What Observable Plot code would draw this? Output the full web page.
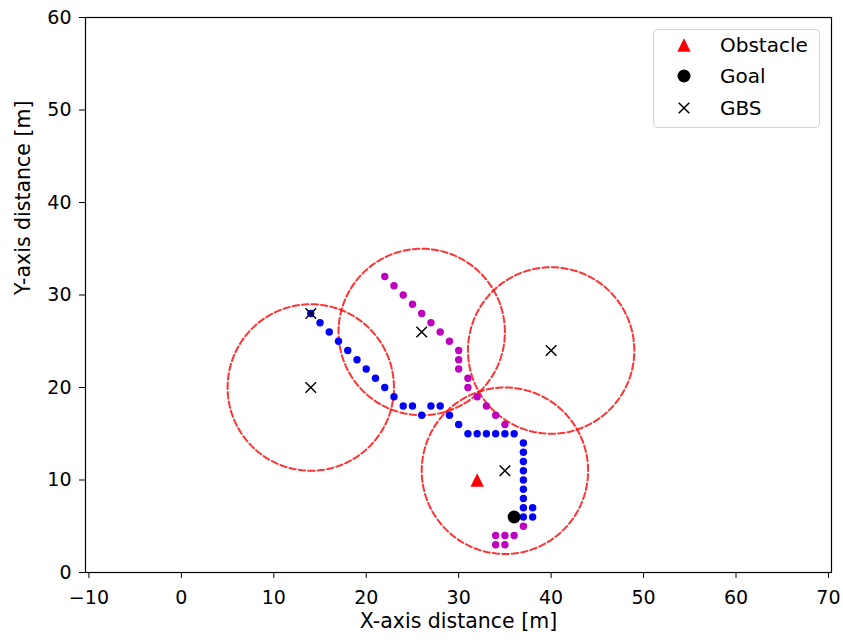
<!DOCTYPE html>
<html>
<head>
<meta charset="utf-8">
<script src="https://cdn.jsdelivr.net/npm/d3@7"></script>
<script src="https://cdn.jsdelivr.net/npm/@observablehq/plot@0.6"></script>
<style>
  body { margin: 0; background: #fff; }
  #chart { position: relative; width: 843px; height: 640px; font-family: "DejaVu Sans", sans-serif; }
  #legend { position: absolute; left: 0; top: 0; pointer-events: none; }
</style>
</head>
<body>
<div id="chart"></div>
<script>
// Ground base stations (GBS)
const gbsX = [14, 14, 26, 40, 35];
const gbsY = [28, 20, 26, 24, 11];

// Coverage areas around four of the stations
const coverageX = [14, 26, 40, 35];
const coverageY = [20, 26, 24, 11];
const coverageRadius = 9;

// Obstacle and goal
const obstacleX = [32];
const obstacleY = [10];
const goalX = [36];
const goalY = [6];

// Blue trajectory
const blueX = [14, 15, 16, 17, 18, 19, 20, 21, 22, 23, 24, 25, 26, 27, 28, 29, 30,
               31, 32, 33, 34, 35, 36, 37, 37, 37, 37, 37, 37, 37, 37, 37, 38, 38];
const blueY = [28, 27, 26, 25, 24, 23, 22, 21, 20, 19, 18, 18, 17, 18, 18, 17, 16,
               15, 15, 15, 15, 15, 15, 14, 13, 12, 11, 10, 9, 8, 7, 6, 7, 6];

// Magenta trajectory
const magentaX = [22, 23, 24, 25, 26, 27, 28, 29, 30, 30, 30, 31, 31, 32, 33, 34, 35,
                  37, 34, 35, 36, 34, 35];
const magentaY = [32, 31, 30, 29, 28, 27, 26, 25, 24, 23, 22, 21, 20, 19, 18, 17, 16,
                  5, 4, 4, 4, 3, 3];

// Axes
const xTicks = [-10, 0, 10, 20, 30, 40, 50, 60, 70];
const yTicks = [0, 10, 20, 30, 40, 50, 60];
const xLabel = "X-axis distance [m]";
const yLabel = "Y-axis distance [m]";
const legendLabels = ["Obstacle", "Goal", "GBS"];

const pts = (xs, ys) => xs.map((x, i) => ({x, y: ys[i]}));
const fmt = d => (d < 0 ? "\u2212" + Math.abs(d) : String(d));

// Circle outlines for each coverage area
const rings = coverageX.flatMap((cx, i) =>
  d3.range(0, 361, 3).map(a => ({
    ring: i,
    x: cx + coverageRadius * Math.cos(a * Math.PI / 180),
    y: coverageY[i] + coverageRadius * Math.sin(a * Math.PI / 180)
  }))
);

// Upward triangle as wide as it is tall
const triangleUp = {
  draw(ctx, size) {
    const h = Math.sqrt(size / Math.PI);
    ctx.moveTo(0, -h);
    ctx.lineTo(h, h);
    ctx.lineTo(-h, h);
    ctx.closePath();
  }
};
// Diagonal cross
const cross = {
  draw(ctx, size) {
    const h = Math.sqrt(size / Math.PI);
    ctx.moveTo(-h, -h); ctx.lineTo(h, h);
    ctx.moveTo(-h, h); ctx.lineTo(h, -h);
  }
};

const W = 843, H = 640;
const plot = Plot.plot({
  width: W,
  height: H,
  marginLeft: 85,
  marginRight: 12,
  marginTop: 17,
  marginBottom: 68,
  style: {fontFamily: "DejaVu Sans", fontSize: "19px", color: "black", background: "white"},
  x: {domain: [-10.37, 70.33], label: null},
  y: {domain: [0, 60], label: null},
  marks: [
    Plot.line(rings, {x: "x", y: "y", z: "ring", stroke: "#ff0000", strokeOpacity: 0.8,
                      strokeWidth: 2, strokeDasharray: "6.5 3"}),
    Plot.dot(pts(magentaX, magentaY), {x: "x", y: "y", r: 3.7, fill: "#bf00bf", stroke: "none"}),
    Plot.dot(pts(blueX, blueY), {x: "x", y: "y", r: 3.7, fill: "#0000ff", stroke: "none"}),
    Plot.dot(pts(gbsX, gbsY), {x: "x", y: "y", r: 5.3, symbol: cross, fill: "none",
                               stroke: "black", strokeWidth: 1.5}),
    Plot.dot(pts(obstacleX, obstacleY), {x: "x", y: "y", r: 6.7, symbol: triangleUp,
                                         fill: "#ff0000", stroke: "none"}),
    Plot.dot(pts(goalX, goalY), {x: "x", y: "y", r: 6.5, fill: "black", stroke: "none"}),
    Plot.frame({stroke: "black", strokeWidth: 1.2}),
    Plot.axisX({ticks: xTicks, tickFormat: fmt, tickSize: 6, tickPadding: 12, label: null}),
    Plot.axisY({ticks: yTicks, tickFormat: fmt, tickSize: 6, tickPadding: 8, label: null}),
    Plot.text([xLabel], {frameAnchor: "bottom", dy: 55, fontSize: 20.5, fill: "black"}),
    Plot.text([yLabel], {frameAnchor: "left", dx: -62, rotate: -90, fontSize: 20.5, fill: "black"})
  ]
});

const chart = document.getElementById("chart");
chart.appendChild(plot);

// Legend box in the upper right corner
const lg = d3.select(chart).append("svg")
  .attr("id", "legend")
  .attr("width", W).attr("height", H);
lg.append("rect")
  .attr("x", 653.5).attr("y", 29.5).attr("width", 166).attr("height", 98)
  .attr("rx", 4).attr("fill", "white").attr("fill-opacity", 0.8)
  .attr("stroke", "#d3d3d3").attr("stroke-width", 1);
const sym = d3.symbol();
const legendRows = [45, 76, 108];
lg.append("path")
  .attr("transform", `translate(684,${legendRows[0]})`)
  .attr("d", sym.type(triangleUp).size(Math.PI * 6.7 * 6.7)())
  .attr("fill", "#ff0000");
lg.append("circle")
  .attr("cx", 684).attr("cy", legendRows[1]).attr("r", 6.5).attr("fill", "black");
lg.append("path")
  .attr("transform", `translate(684,${legendRows[2]})`)
  .attr("d", sym.type(cross).size(Math.PI * 5.3 * 5.3)())
  .attr("fill", "none").attr("stroke", "black").attr("stroke-width", 1.5);
lg.selectAll("text.lbl").data(legendLabels).join("text")
  .attr("class", "lbl")
  .attr("x", 720)
  .attr("y", (d, i) => legendRows[i] + 7)
  .attr("font-family", "DejaVu Sans")
  .attr("font-size", 20)
  .attr("fill", "black")
  .text(d => d);
</script>
</body>
</html>
